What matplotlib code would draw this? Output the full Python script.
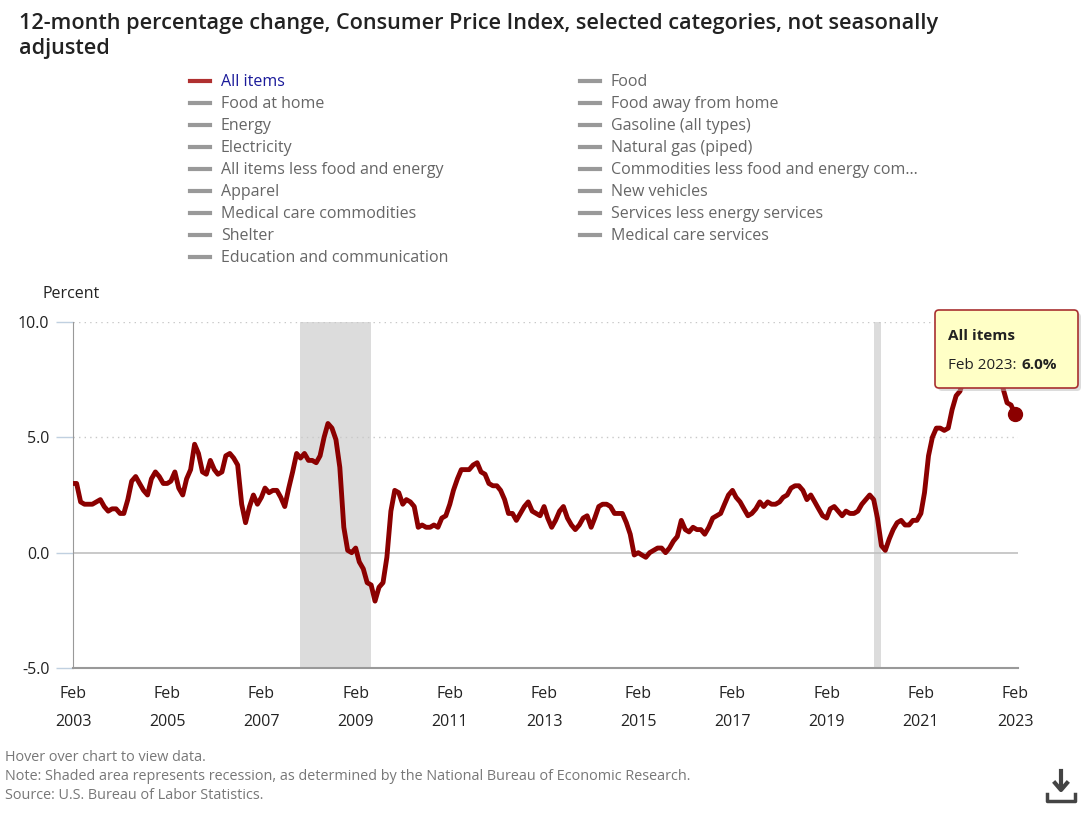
import pandas as pd
import matplotlib
matplotlib.use("Agg")
import matplotlib.pyplot as plt
from matplotlib.lines import Line2D
from matplotlib.patches import FancyBboxPatch
from matplotlib.transforms import IdentityTransform

plt.rcParams['font.family'] = ['Open Sans', 'DejaVu Sans']

# 12-month % change, CPI-U all items, Feb 2003 .. Feb 2023
all_items = [
    3.0, 3.0, 2.2, 2.1, 2.1, 2.1, 2.2, 2.3, 2.0, 1.8, 1.9,                # 2003
    1.9, 1.7, 1.7, 2.3, 3.1, 3.3, 3.0, 2.7, 2.5, 3.2, 3.5, 3.3,           # 2004
    3.0, 3.0, 3.1, 3.5, 2.8, 2.5, 3.2, 3.6, 4.7, 4.3, 3.5, 3.4,           # 2005
    4.0, 3.6, 3.4, 3.5, 4.2, 4.3, 4.1, 3.8, 2.1, 1.3, 2.0, 2.5,           # 2006
    2.1, 2.4, 2.8, 2.6, 2.7, 2.7, 2.4, 2.0, 2.8, 3.5, 4.3, 4.1,           # 2007
    4.3, 4.0, 4.0, 3.9, 4.2, 5.0, 5.6, 5.4, 4.9, 3.7, 1.1, 0.1,           # 2008
    0.0, 0.2, -0.4, -0.7, -1.3, -1.4, -2.1, -1.5, -1.3, -0.2, 1.8, 2.7,   # 2009
    2.6, 2.1, 2.3, 2.2, 2.0, 1.1, 1.2, 1.1, 1.1, 1.2, 1.1, 1.5,           # 2010
    1.6, 2.1, 2.7, 3.2, 3.6, 3.6, 3.6, 3.8, 3.9, 3.5, 3.4, 3.0,           # 2011
    2.9, 2.9, 2.7, 2.3, 1.7, 1.7, 1.4, 1.7, 2.0, 2.2, 1.8, 1.7,           # 2012
    1.6, 2.0, 1.5, 1.1, 1.4, 1.8, 2.0, 1.5, 1.2, 1.0, 1.2, 1.5,           # 2013
    1.6, 1.1, 1.5, 2.0, 2.1, 2.1, 2.0, 1.7, 1.7, 1.7, 1.3, 0.8,           # 2014
    -0.1, 0.0, -0.1, -0.2, 0.0, 0.1, 0.2, 0.2, 0.0, 0.2, 0.5, 0.7,        # 2015
    1.4, 1.0, 0.9, 1.1, 1.0, 1.0, 0.8, 1.1, 1.5, 1.6, 1.7, 2.1,           # 2016
    2.5, 2.7, 2.4, 2.2, 1.9, 1.6, 1.7, 1.9, 2.2, 2.0, 2.2, 2.1,           # 2017
    2.1, 2.2, 2.4, 2.5, 2.8, 2.9, 2.9, 2.7, 2.3, 2.5, 2.2, 1.9,           # 2018
    1.6, 1.5, 1.9, 2.0, 1.8, 1.6, 1.8, 1.7, 1.7, 1.8, 2.1, 2.3,           # 2019
    2.5, 2.3, 1.5, 0.3, 0.1, 0.6, 1.0, 1.3, 1.4, 1.2, 1.2, 1.4,           # 2020
    1.4, 1.7, 2.6, 4.2, 5.0, 5.4, 5.4, 5.3, 5.4, 6.2, 6.8, 7.0,           # 2021
    7.5, 7.9, 8.5, 8.3, 8.6, 9.1, 8.5, 8.3, 8.2, 7.7, 7.1, 6.5,           # 2022
    6.4, 6.0,                                                             # 2023
]
dates = pd.date_range("2003-02-01", periods=len(all_items), freq="MS")

recessions = [("2007-12-01", "2009-06-01"), ("2020-02-01", "2020-04-01")]

legend_left = ["All items", "Food at home", "Energy", "Electricity",
               "All items less food and energy", "Apparel",
               "Medical care commodities", "Shelter",
               "Education and communication"]
legend_right = ["Food", "Food away from home", "Gasoline (all types)",
                "Natural gas (piped)",
                "Commodities less food and energy com...", "New vehicles",
                "Services less energy services", "Medical care services"]

title = ("12-month percentage change, Consumer Price Index, selected categories, not seasonally\n"
         "adjusted")
notes = ["Hover over chart to view data.",
         "Note: Shaded area represents recession, as determined by the National Bureau of Economic Research.",
         "Source: U.S. Bureau of Labor Statistics."]

RED = "#8b0000"
W, H = 1082, 813


def fy(py):
    return 1 - py / H


def fx(px):
    return px / W


fig = plt.figure(figsize=(W / 100, H / 100), dpi=100)
ax = fig.add_axes([fx(73), fy(668), fx(1018) - fx(73), fy(322) - fy(668)])

for start, end in recessions:
    ax.axvspan(pd.Timestamp(start), pd.Timestamp(end), color="#dcdcdc", lw=0, zorder=0)

ax.plot(dates, all_items, color=RED, lw=3.5, solid_joinstyle="round", zorder=3)
ax.plot(dates[-1], all_items[-1], "o", color=RED, ms=10, zorder=4, clip_on=False)

ax.set_ylim(-5, 10)
ax.set_xlim(dates[0], dates[-1] + pd.Timedelta(days=23))
ax.set_yticks([-5, 0, 5, 10])
ax.set_yticklabels(["-5.0", "0.0", "5.0", "10.0"])
for y in (5, 10):
    ax.axhline(y, color="#c8c8c8", lw=1, ls=(0, (1, 3)), zorder=1)
ax.axhline(0, color="#c0c0c0", lw=1.2, zorder=1)

ticks = pd.date_range("2003-02-01", "2023-02-01", freq="24MS")
ax.set_xticks(ticks)
ax.set_xticklabels([f"Feb\n{d.year}" for d in ticks], linespacing=2.0)
ax.tick_params(axis="x", length=0, pad=13, labelsize=11.5, colors="#222222")
ax.tick_params(axis="y", length=12, width=1, color="#c0d0e0", pad=5,
               labelsize=11.5, labelcolor="#222222")

for side in ("top", "right"):
    ax.spines[side].set_visible(False)
ax.spines["left"].set_color("#999999")
ax.spines["bottom"].set_color("#999999")
ax.spines["bottom"].set_linewidth(1.5)

fig.text(fx(42), fy(294), "Percent", fontsize=11.5, color="#222222", va="center")

# title
fig.text(fx(19), fy(36), title, fontsize=15.6, fontweight="semibold",
         color="#222222", va="center", linespacing=1.2)

# legend
rows = [81 + 22 * i for i in range(len(legend_left))]
for col_x, names in ((190, legend_left), (580, legend_right)):
    for name, ry in zip(names, rows):
        active = name == "All items"
        fig.add_artist(Line2D([fx(col_x), fx(col_x + 20)], [fy(ry), fy(ry)],
                              color="#b03030" if active else "#999999", lw=3))
        fig.text(fx(col_x + 31), fy(ry + 1), name, fontsize=11.5, va="center",
                 color="#1a1a9a" if active else "#666666")

# tooltip
tr = IdentityTransform()
fig.add_artist(FancyBboxPatch((938, H - 391), 143, 78, boxstyle="round,pad=0,rounding_size=4",
                              transform=tr, fc="#bbbbbb", ec="none", alpha=0.5, zorder=9))
fig.add_artist(FancyBboxPatch((935, H - 388), 143, 78, boxstyle="round,pad=0,rounding_size=4",
                              transform=tr, fc="#ffffc6", ec="#a83030", lw=1.2, zorder=10))
fig.text(fx(948), fy(336), "All items", fontsize=11, fontweight="bold",
         color="#222222", va="center", zorder=11)
t1 = fig.text(fx(948), fy(365), "Feb 2023:", fontsize=11, color="#222222",
              va="center", zorder=11)
fig.canvas.draw()
ext = t1.get_window_extent()
fig.text((ext.x1 + 5) / W, fy(365), "6.0%", fontsize=11, fontweight="bold",
         color="#222222", va="center", zorder=11)

# footer
for i, line in enumerate(notes):
    fig.text(fx(5), fy(757 + 19 * i), line, fontsize=10.35, color="#777777", va="center")

# download icon
fig.add_artist(Line2D([fx(1061), fx(1061)], [fy(771), fy(787)], color="#444444", lw=3))
fig.add_artist(Line2D([fx(1055), fx(1061), fx(1067)], [fy(783), fy(790), fy(783)],
                      color="#444444", lw=3))
fig.add_artist(Line2D([fx(1047), fx(1047), fx(1075), fx(1075)],
                      [fy(794), fy(801), fy(801), fy(794)], color="#444444", lw=2.5))

fig.savefig("out.png", dpi=100, facecolor="white")
